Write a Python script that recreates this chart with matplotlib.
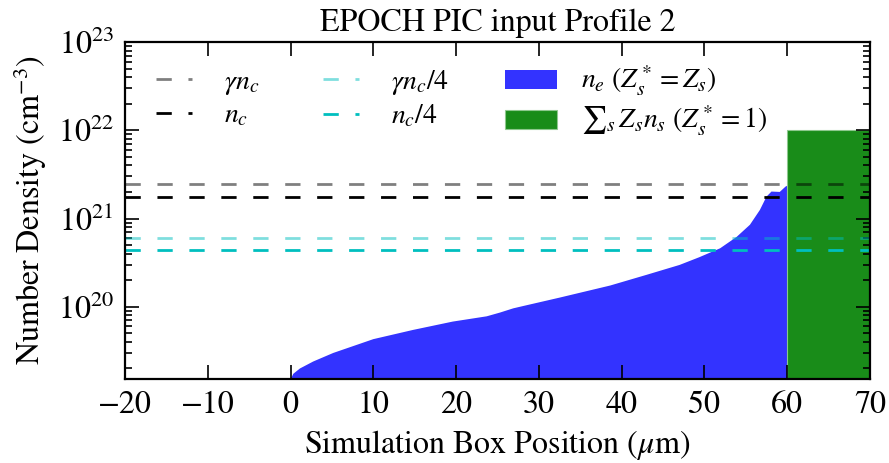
import matplotlib
matplotlib.use("Agg")
import matplotlib.pyplot as plt
import numpy as np

plt.rcParams['font.family'] = ['STIXGeneral', 'DejaVu Serif']
plt.rcParams['mathtext.fontset'] = 'stix'

# electron density profile (cm^-3) vs position (um)
x_ne = [0, 0.33, 1.13, 2.74, 5.16, 10.0, 14.8, 19.6, 23.7, 25.3, 26.9, 28.1,
        32.5, 38.6, 43.0, 47.0, 49.4, 51.9, 53.9, 55.5, 56.7, 57.5, 58.1,
        59.1, 59.8, 60.0]
n_e = [1.5e19, 1.74e19, 2.0e19, 2.4e19, 3.0e19, 4.3e19, 5.47e19, 6.8e19,
       7.8e19, 8.6e19, 9.6e19, 1.02e20, 1.27e20, 1.74e20, 2.3e20, 2.98e20,
       3.65e20, 4.6e20, 6.2e20, 8.5e20, 1.25e21, 1.77e21, 2.02e21, 2.0e21,
       2.3e21, 2.35e21]

# solid target (Z* = 1)
x_solid = [60, 70]
n_solid = [1e22, 1e22]

# critical densities
n_c = 1.74e21
gamma = 1.4
ref_levels = [gamma * n_c, n_c, gamma * n_c / 4, n_c / 4]
ref_labels = [r'$\gamma n_c$', r'$n_c$', r'$\gamma n_c/4$', r'$n_c/4$']
ref_colors = ['k', 'k', 'c', 'c']
ref_alpha = [0.5, 1.0, 0.5, 1.0]

fig = plt.figure(figsize=(8.89, 4.63), dpi=100)
ax = fig.add_axes([0.1406, 0.1814, 0.838, 0.728])

floor = 1e10
ax.fill_between(x_ne, n_e, floor, color='b', alpha=0.8, lw=0,
                label=r'$n_e\ (Z_s^* = Z_s)$')
ax.fill_between(x_solid, n_solid, floor, color='g', alpha=0.9, lw=0.8,
                edgecolor='#8fc98f',
                label=r'$∑_s\, Z_s n_s\ (Z_s^* = 1)$')

for lev, lab, col, al in zip(ref_levels, ref_labels, ref_colors, ref_alpha):
    ax.axhline(lev, color=col, alpha=al, ls=(0, (5.5, 6)), lw=2, label=lab)

ax.set_yscale('log')
ax.set_xlim(-20, 70)
ax.set_ylim(1.52e19, 1e23)
ax.set_xticks(np.arange(-20, 71, 10))

for s in ax.spines.values():
    s.set_linewidth(1.6)
ax.tick_params(which='both', direction='in', top=True, right=True,
               labelsize=23, width=1.2)
ax.tick_params(which='major', length=10, pad=8)
ax.tick_params(which='minor', length=5)

ax.set_title('EPOCH PIC input Profile 2', fontsize=23, pad=8)
ax.set_xlabel(r'Simulation Box Position ($\mu$m)', fontsize=23, labelpad=6)
ax.set_ylabel(r'Number Density (cm$^{-3}$)', fontsize=23, labelpad=6)

h, l = ax.get_legend_handles_labels()
order = [2, 3, 4, 5, 0, 1]
ax.legend([h[i] for i in order], [l[i] for i in order], ncol=3,
          loc='upper left', bbox_to_anchor=(0.0, 1.0), frameon=False,
          fontsize=20, numpoints=2, handlelength=1.9, handletextpad=0.85,
          columnspacing=2.0, labelspacing=0.22, borderaxespad=0.4)

fig.savefig('out.png', dpi=100)
